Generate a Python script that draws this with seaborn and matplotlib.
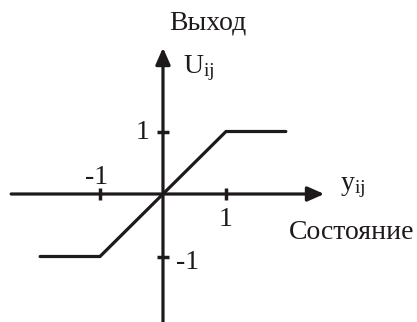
import matplotlib
matplotlib.use('Agg')
import matplotlib.pyplot as plt
import seaborn as sns

# saturation characteristic of a cell
state = [-1.95, -1, 1, 1.95]
output = [-1, -1, 1, 1]

tick_pos = [-1, 1]
x_ticklabels = ['-1', '1']
y_ticklabels = ['-1', '1']

sns.set_style('white')
plt.rcParams['font.family'] = ['Liberation Serif', 'DejaVu Serif']
plt.rcParams['mathtext.fontset'] = 'custom'
plt.rcParams['mathtext.rm'] = 'Liberation Serif'
plt.rcParams['mathtext.it'] = 'Liberation Serif:italic'

ink = '#1e1a1a'
lw = 2.3
fs = 20

fig = plt.figure(figsize=(4.17, 3.22), dpi=100)
ax = fig.add_axes([0, 0, 1, 1])
ax.set_xlim(-2.587, 4.032)
ax.set_ylim(-2.048, 3.104)
ax.axis('off')

# axes with arrows
arrow = dict(arrowstyle='-|>,head_length=0.5,head_width=0.22', mutation_scale=20,
             color=ink, lw=lw, shrinkA=0, shrinkB=0)
ax.annotate('', xy=(2.56, 0), xytext=(-2.41, 0), arrowprops=arrow)
ax.annotate('', xy=(0, 2.34), xytext=(0, -2.06), arrowprops=arrow)

# tick marks
ax.plot(tick_pos, [0] * len(tick_pos), ls='none', marker='|', ms=8.5, mew=2.5, color=ink)
ax.plot([0] * len(tick_pos), tick_pos, ls='none', marker='_', ms=8.5, mew=2.5, color=ink)

sns.lineplot(x=state, y=output, ax=ax, color=ink, linewidth=lw, sort=False)

# tick labels
ax.text(-1.05, 0.16, x_ticklabels[0], ha='center', va='baseline', fontsize=fs, color=ink)
ax.text(1.0, -0.51, x_ticklabels[1], ha='center', va='baseline', fontsize=fs, color=ink)
ax.text(-0.21, 0.88, y_ticklabels[1], ha='right', va='baseline', fontsize=fs, color=ink)
ax.text(0.2, -1.2, y_ticklabels[0], ha='left', va='baseline', fontsize=fs, color=ink)

# axis names
ax.text(0.714, 2.74, 'Выход', ha='center', va='center', fontsize=fs, color=ink)
ax.text(0.32, 1.94, r'U$_{\mathrm{ij}}$', ha='left', va='baseline', fontsize=fs, color=ink)
ax.text(2.81, 0.07, r'y$_{\mathrm{ij}}$', ha='left', va='baseline', fontsize=fs, color=ink)
ax.text(3.0, -0.62, 'Состояние', ha='center', va='center', fontsize=fs, color=ink)

fig.savefig('out.png', dpi=100, facecolor='white')
